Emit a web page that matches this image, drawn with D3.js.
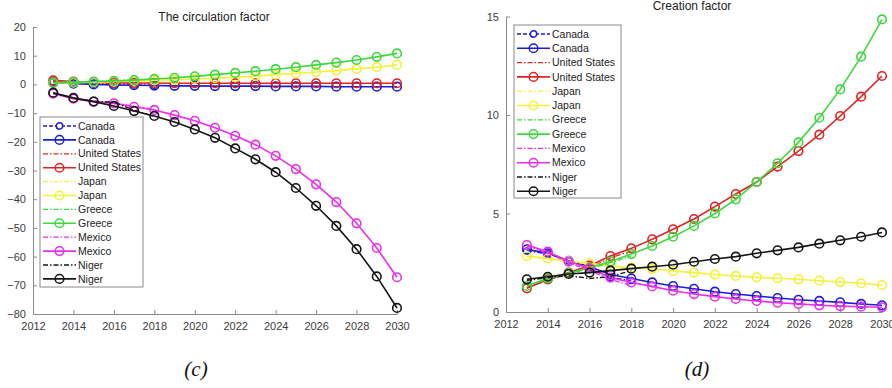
<!DOCTYPE html>
<meta charset="utf-8">
<script src="https://d3js.org/d3.v7.min.js"></script>
<style>
  body { margin: 0; background: #fff; }
  svg text { font-family: "Liberation Sans", Arial, sans-serif; }
</style>
<div id="chart"></div>
<script>
  // years on the x axis
  const years = [2013, 2014, 2015, 2016, 2017, 2018, 2019, 2020, 2021, 2022, 2023, 2024, 2025, 2026, 2027, 2028, 2029, 2030];
  const realYears = [2013, 2014, 2015, 2016, 2017, 2018];
  const countries = ["Canada", "United States", "Japan", "Greece", "Mexico", "Niger"];
  const colors = ["#1c1cd6", "#dd2424", "#f2f23a", "#3ed83e", "#e82ee8", "#161616"];

  // (c) the circulation factor - fitted
  const circCanada = [0.7, 0.3, 0.0, -0.2, -0.3, -0.4, -0.5, -0.5, -0.6, -0.6, -0.6, -0.7, -0.7, -0.7, -0.8, -0.8, -0.8, -0.8];
  const circUS = [1.4, 1.0, 0.8, 0.6, 0.5, 0.5, 0.4, 0.4, 0.4, 0.4, 0.4, 0.4, 0.4, 0.4, 0.4, 0.4, 0.4, 0.4];
  const circJapan = [0.5, 0.6, 0.8, 1.0, 1.2, 1.4, 1.6, 1.9, 2.2, 2.5, 2.9, 3.4, 3.8, 4.3, 4.8, 5.4, 6.0, 6.8];
  const circGreece = [0.5, 0.8, 1.0, 1.2, 1.5, 1.9, 2.3, 2.8, 3.4, 4.0, 4.6, 5.3, 6.0, 6.8, 7.6, 8.5, 9.6, 10.8];
  const circMexico = [-3.2, -5.0, -6.0, -6.6, -7.8, -8.9, -10.7, -12.7, -15.1, -17.9, -21.0, -24.9, -29.5, -34.8, -41.0, -48.4, -57.0, -67.2];
  const circNiger = [-2.9, -4.7, -6.0, -7.5, -9.3, -11.0, -13.1, -15.7, -18.6, -22.3, -26.1, -30.6, -36.1, -42.3, -49.3, -57.4, -66.9, -77.9];
  // (c) real data
  const circCanadaReal = [0.8, 0.4, 0.1, -0.1, -0.2, -0.3];
  const circUSReal = [1.2, 0.8, 0.5, 0.3, 0.2, 0.2];
  const circJapanReal = [0.4, 0.6, 0.8, 0.9, 1.1, 1.3];
  const circGreeceReal = [0.6, 0.9, 1.0, 1.3, 1.6, 1.9];
  const circMexicoReal = [-3.3, -4.9, -5.8, -6.4, -7.6, -8.7];
  const circNigerReal = [-3.0, -4.8, -5.9, -6.2, -9.0, -11.2];

  // (d) creation factor - fitted
  const creaCanada = [3.18, 2.98, 2.6, 2.3, 1.9, 1.7, 1.5, 1.32, 1.18, 1.03, 0.91, 0.81, 0.71, 0.62, 0.56, 0.49, 0.41, 0.34];
  const creaUS = [1.2, 1.66, 2.0, 2.35, 2.84, 3.23, 3.69, 4.2, 4.72, 5.35, 5.99, 6.6, 7.38, 8.17, 9.0, 9.95, 10.93, 11.98];
  const creaJapan = [2.84, 2.72, 2.58, 2.47, 2.34, 2.25, 2.18, 2.08, 2.0, 1.9, 1.83, 1.76, 1.71, 1.66, 1.59, 1.52, 1.46, 1.37];
  const creaGreece = [1.32, 1.71, 1.97, 2.25, 2.56, 2.94, 3.35, 3.82, 4.37, 5.0, 5.72, 6.6, 7.55, 8.61, 9.86, 11.3, 12.96, 14.85];
  const creaMexico = [3.4, 3.06, 2.56, 2.22, 1.75, 1.5, 1.3, 1.08, 0.91, 0.78, 0.66, 0.56, 0.47, 0.41, 0.34, 0.3, 0.27, 0.24];
  const creaNiger = [1.66, 1.79, 1.93, 2.0, 2.1, 2.2, 2.3, 2.4, 2.55, 2.69, 2.81, 2.98, 3.13, 3.28, 3.47, 3.64, 3.82, 4.04];
  // (d) real data
  const creaCanadaReal = [3.1, 2.95, 2.6, 2.2, 1.75, 1.6];
  const creaUSReal = [1.25, 1.6, 1.95, 2.25, 2.75, 3.1];
  const creaJapanReal = [2.8, 2.7, 2.55, 2.45, 2.3, 2.2];
  const creaGreeceReal = [1.35, 1.65, 1.95, 2.2, 2.5, 2.85];
  const creaMexicoReal = [3.35, 3.0, 2.5, 2.1, 1.65, 1.35];
  const creaNigerReal = [1.6, 1.75, 1.85, 1.7, 1.8, 2.1];

  const xTicks = [2012, 2014, 2016, 2018, 2020, 2022, 2024, 2026, 2028, 2030];
  const circTicks = [20, 10, 0, -10, -20, -30, -40, -50, -60, -70, -80];
  const creaTicks = [0, 5, 10, 15];

  const W = 892, H = 388;
  const svg = d3.select("#chart").append("svg")
    .attr("width", W).attr("height", H);

  // one panel: axes, lines, markers, legend
  function drawPanel(p) {
    const x = d3.scaleLinear().domain([2012, 2030]).range([p.left, p.right]);
    const y = d3.scaleLinear().domain(p.yDomain).range([p.bottom, p.top]);
    const g = svg.append("g");

    // axes (MATLAB style: ticks inside, no box)
    const xAxis = g.append("g")
      .attr("transform", `translate(0,${p.bottom})`)
      .call(d3.axisBottom(x).tickValues(xTicks).tickFormat(d3.format("d")).tickSizeInner(-4).tickSizeOuter(0).tickPadding(8));
    const yAxis = g.append("g")
      .attr("transform", `translate(${p.left},0)`)
      .call(d3.axisLeft(y).tickValues(p.yTicks).tickSizeInner(-4).tickSizeOuter(0).tickPadding(7));
    [xAxis, yAxis].forEach(a => {
      a.select(".domain").attr("stroke", "#8a8a8a");
      a.selectAll(".tick line").attr("stroke", "#8a8a8a");
      a.selectAll("text").attr("fill", "#3c3c3c").style("font-size", "11px");
    });

    const line = d3.line().x(d => x(d[0])).y(d => y(d[1]));

    p.series.forEach((s, i) => {
      const fitted = years.map((yr, k) => [yr, s.fit[k]]);
      const real = realYears.map((yr, k) => [yr, s.real[k]]);
      // real data (dash-dot)
      g.append("path").datum(real)
        .attr("d", line).attr("fill", "none")
        .attr("stroke", colors[i]).attr("stroke-width", 1.3)
        .attr("stroke-dasharray", "5,2,1.5,2");
      if (i === 0) {
        g.selectAll(null).data(real).join("circle")
          .attr("cx", d => x(d[0])).attr("cy", d => y(d[1])).attr("r", 3.2)
          .attr("fill", "none").attr("stroke", colors[i]).attr("stroke-width", 1.2);
      }
      // fitted (solid with circles)
      g.append("path").datum(fitted)
        .attr("d", line).attr("fill", "none")
        .attr("stroke", colors[i]).attr("stroke-width", 1.6);
      g.selectAll(null).data(fitted).join("circle")
        .attr("cx", d => x(d[0])).attr("cy", d => y(d[1])).attr("r", 4.3)
        .attr("fill", "none").attr("stroke", colors[i]).attr("stroke-width", 1.6);
    });

    // title
    svg.append("text")
      .attr("x", p.titleX).attr("y", p.titleY)
      .attr("text-anchor", "middle")
      .style("font-size", "12px").attr("fill", "#222")
      .text(p.title);

    // legend
    const lg = svg.append("g").attr("transform", `translate(${p.legX},${p.legY})`);
    lg.append("rect")
      .attr("width", p.legW).attr("height", p.legH)
      .attr("fill", "#fff").attr("stroke", "#8a8a8a");
    countries.forEach((c, i) => {
      [0, 1].forEach(k => {
        const row = i * 2 + k;
        const yy = 9 + row * p.legStep;
        const item = lg.append("g").attr("transform", `translate(0,${yy})`);
        item.append("line")
          .attr("x1", 3).attr("x2", 36).attr("y1", 0).attr("y2", 0)
          .attr("stroke", colors[i])
          .attr("stroke-width", k === 0 ? 1.3 : 1.6)
          .attr("stroke-dasharray", k === 0 ? (i === 0 ? "4,2" : "5,2,1.5,2") : null);
        if (k === 1 || i === 0) {
          item.append("circle").attr("cx", 19.5).attr("cy", 0)
            .attr("r", k === 1 ? 4.3 : 3.2).attr("fill", k === 1 ? "none" : "#fff")
            .attr("stroke", colors[i]).attr("stroke-width", 1.5);
        }
        item.append("text")
          .attr("x", 38).attr("y", 0).attr("dy", "0.35em")
          .style("font-size", "10.5px").attr("fill", "#222")
          .text(c);
      });
    });

    // sub label
    svg.append("text")
      .attr("x", p.subX).attr("y", 376)
      .attr("text-anchor", "middle")
      .style("font-family", "'Liberation Serif', 'Times New Roman', serif")
      .style("font-style", "italic").style("font-size", "21px").attr("fill", "#111")
      .text(p.sub);
  }

  drawPanel({
    left: 33, right: 397, top: 27, bottom: 314,
    yDomain: [-80, 20], yTicks: circTicks,
    title: "The circulation factor", titleX: 214, titleY: 21,
    legX: 40, legY: 117, legW: 103, legH: 170, legStep: 13.9,
    sub: "(c)", subX: 196,
    series: [
      { fit: circCanada, real: circCanadaReal },
      { fit: circUS, real: circUSReal },
      { fit: circJapan, real: circJapanReal },
      { fit: circGreece, real: circGreeceReal },
      { fit: circMexico, real: circMexicoReal },
      { fit: circNiger, real: circNigerReal }
    ]
  });

  drawPanel({
    left: 506, right: 882, top: 16.5, bottom: 312,
    yDomain: [0, 15], yTicks: creaTicks,
    title: "Creation factor", titleX: 692, titleY: 10,
    legX: 514, legY: 25, legW: 107, legH: 173, legStep: 14.3,
    sub: "(d)", subX: 697,
    series: [
      { fit: creaCanada, real: creaCanadaReal },
      { fit: creaUS, real: creaUSReal },
      { fit: creaJapan, real: creaJapanReal },
      { fit: creaGreece, real: creaGreeceReal },
      { fit: creaMexico, real: creaMexicoReal },
      { fit: creaNiger, real: creaNigerReal }
    ]
  });
</script>
